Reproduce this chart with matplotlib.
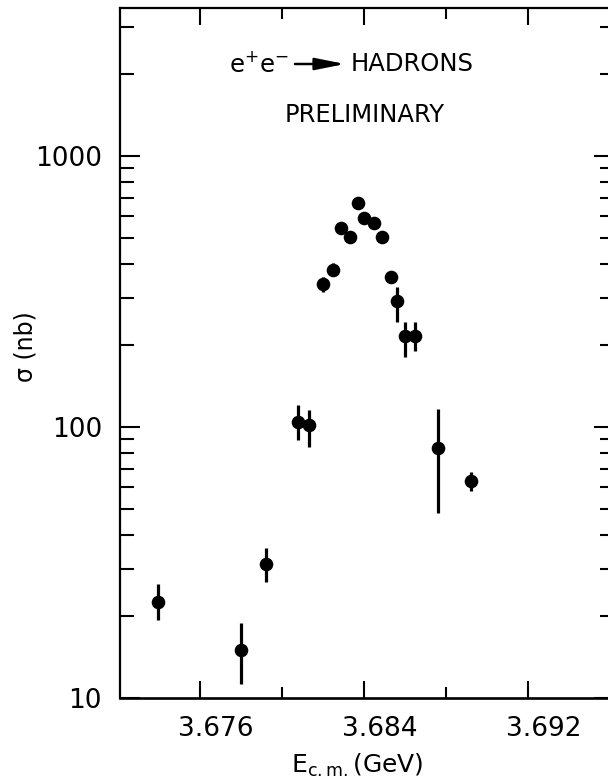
import matplotlib
matplotlib.use("Agg")
import matplotlib.pyplot as plt
import matplotlib.transforms as mtransforms
from matplotlib.ticker import FixedLocator, FixedFormatter, NullFormatter
import numpy as np

# Measured cross section e+e- -> hadrons near the psi' resonance
energy_gev = [3.67395, 3.6780, 3.6792, 3.6808, 3.6813, 3.6820, 3.6825, 3.6829,
              3.6833, 3.6837, 3.6840, 3.6845, 3.6849, 3.6853, 3.6856, 3.6860,
              3.6865, 3.6876, 3.6892]
sigma_nb = [22.6, 15.0, 31.2, 104, 102, 337, 380, 541,
            504, 669, 589, 564, 504, 357, 292, 217,
            217, 83.4, 63.4]
sigma_low = [19.4, 11.3, 26.8, 89.5, 84.4, 316, 370, 541,
             504, 669, 589, 564, 504, 357, 245, 182,
             191, 48.3, 58.2]
sigma_high = [26.3, 18.9, 35.8, 120.6, 115.5, 359, 404, 541,
              504, 669, 589, 564, 504, 357, 329, 245,
              245, 117, 68.4]

x_major_ticks = [3.676, 3.684, 3.692]
x_major_labels = ["3.676", "3.684", "3.692"]
x_minor_ticks = [3.680, 3.688]
y_major_ticks = [10, 100, 1000]
y_major_labels = ["10", "100", "1000"]

W, H, DPI = 608, 781, 100
fig = plt.figure(figsize=(W / DPI, H / DPI), dpi=DPI)
fig.patch.set_facecolor("white")

# axes box in pixel units (right edge runs just past the canvas)
left_px, right_px, top_px, bottom_px = 120, 614, 8, 698
ax = fig.add_axes([left_px / W, 1 - bottom_px / H,
                   (right_px - left_px) / W, (bottom_px - top_px) / H])

ax.set_yscale("log")
ax.set_xlim(3.6721, 3.6962)
ax.set_ylim(10, 3518)

x = np.array(energy_gev)
y = np.array(sigma_nb)
yerr = np.vstack([y - np.array(sigma_low), np.array(sigma_high) - y])
ax.errorbar(x, y, yerr=yerr, fmt="o", color="black", ms=9.8, mew=0,
            elinewidth=2.3, capsize=0, zorder=3)

# ticks
ax.xaxis.set_major_locator(FixedLocator(x_major_ticks))
ax.xaxis.set_major_formatter(FixedFormatter(x_major_labels))
ax.xaxis.set_minor_locator(FixedLocator(x_minor_ticks))
ax.yaxis.set_major_locator(FixedLocator(y_major_ticks))
ax.yaxis.set_major_formatter(FixedFormatter(y_major_labels))
ax.yaxis.set_minor_formatter(NullFormatter())

ax.tick_params(which="both", direction="in", top=True, right=True,
               width=1.5, color="black", labelsize=19)
ax.tick_params(axis="y", which="major", length=14.4, pad=13)
ax.tick_params(axis="y", which="minor", length=10)
ax.tick_params(axis="x", which="major", length=12, pad=13)
ax.tick_params(axis="x", which="minor", length=8)

offset = mtransforms.ScaledTranslation(16 / DPI, 0, fig.dpi_scale_trans)
for lab in ax.get_xticklabels():
    lab.set_transform(lab.get_transform() + offset)

for side in ["left", "top", "right"]:
    ax.spines[side].set_linewidth(1.6)
    ax.spines[side].set_color("black")
ax.spines["bottom"].set_linewidth(1.9)

# axis labels
ax.set_ylabel("σ (nb)", fontsize=17, va="center")
ax.yaxis.set_label_coords((25 - left_px) / (right_px - left_px),
                          (bottom_px - 347) / (bottom_px - top_px))
ax.set_xlabel(r"$\mathregular{E_{c.m.}}$(GeV)", fontsize=18, va="center")
ax.xaxis.set_label_coords((357 - left_px) / (right_px - left_px),
                          (bottom_px - 765) / (bottom_px - top_px))


def axx(px):
    return (px - left_px) / (right_px - left_px)


def axy(py):
    return (bottom_px - py) / (bottom_px - top_px)


# reaction label with arrow
ax.text(axx(289), axy(64), r"$\mathregular{e^{+}e^{-}}$", transform=ax.transAxes,
        ha="right", va="center", fontsize=17.5)
ax.annotate("", xy=(axx(345), axy(64)), xytext=(axx(295), axy(64)),
            xycoords="axes fraction", textcoords="axes fraction",
            arrowprops=dict(arrowstyle="-|>,head_length=1.0,head_width=0.2",
                            lw=1.8, color="black", mutation_scale=18,
                            shrinkA=0, shrinkB=0))
ax.text(axx(351), axy(64), "HADRONS", transform=ax.transAxes,
        ha="left", va="center", fontsize=17.5)
ax.text(axx(364.5), axy(115), "PRELIMINARY", transform=ax.transAxes,
        ha="center", va="center", fontsize=17.5)

fig.savefig("out.png", dpi=DPI, facecolor="white")
